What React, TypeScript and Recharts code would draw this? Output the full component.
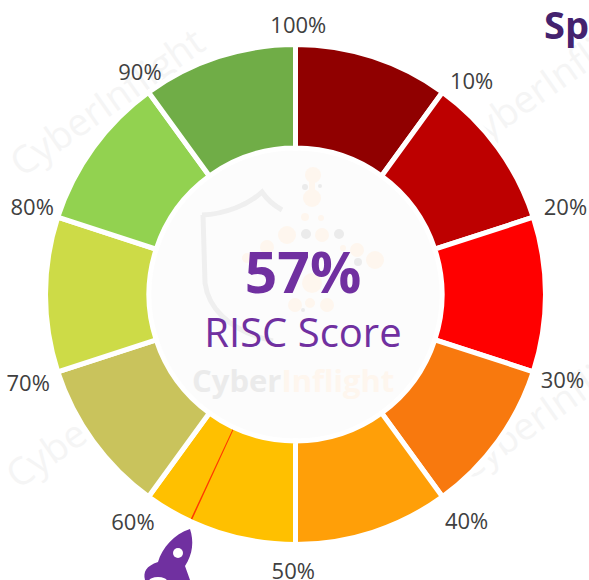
import { Cell, Pie, PieChart } from 'recharts';

const FONT = '"Open Sans", "Noto Sans", sans-serif';

const tickLabels = ['10%', '20%', '30%', '40%', '50%', '60%', '70%', '80%', '90%', '100%'];
const bandValues = [10, 10, 10, 10, 10, 10, 10, 10, 10, 10];
const bandColors = ['#900000', '#BD0000', '#FF0000', '#F8790E', '#FF9F08', '#FFC000', '#C9C35C', '#CDDB47', '#92D250', '#70AD47'];
const scoreLabel = 'RISC Score';
const scoreValue = 57;
// thin sliver that draws the red marker, the gauge reads a hair under the printed score
const markerValues = [56.85, 0.1, 43.05];
const markerSplit = markerValues.map(value => ({ value }));
const bands = bandValues.map((value, i) => ({ name: tickLabels[i], value }));

const CX = 295.5;
const CY = 294.5;
// the original labels do not sit on a clean circle, small nudges per label
const tickNudgeX = [6, -3, -6, 1, -6, 0, -2, 2, 7, -1];
const tickNudgeY = [5, -6, -3, 0, -2, 1, 0, -6, -4, 2];

function renderTick(props: any) {
    const { midAngle, name, index } = props
    // tick sits on the closing edge of each band
    const angle = ((midAngle - 18) * Math.PI) / 180
    const x = CX + 3.8 + 283 * Math.cos(angle) + tickNudgeX[index]
    const y = CY + 2.7 - 275 * Math.sin(angle) + tickNudgeY[index]
    return <text x={x} y={y} textAnchor="middle" dominantBaseline="central" fontSize={22} fill="#404040" fontFamily={FONT}>{name}</text>
}

function Watermark({ x, y, angle = -35 }: { x: number; y: number; angle?: number }) {
    return <text x={x} y={y} transform={`rotate(${angle} ${x} ${y})`} fontSize={38} fill="#F5F5F5" fontFamily={FONT}>CyberInflight</text>
}

export default function App() {
    return <div style={{ position: 'absolute', left: 0, top: 0, width: 589, height: 580, overflow: 'hidden', background: '#fff' }}>
        <svg width={589} height={580} style={{ position: 'absolute', left: 0, top: 0 }}>
            <Watermark x={22} y={178} />
            <Watermark x={468} y={155} />
            <Watermark x={18} y={490} />
            <Watermark x={468} y={482} />
        </svg>
        <div style={{ position: 'absolute', left: 0, top: 0 }}>
            <PieChart width={589} height={580} margin={{ top: 0, right: 0, bottom: 0, left: 0 }}>
                <Pie data={[{ value: 1 }]} dataKey="value" cx={CX} cy={CY} innerRadius={0} outerRadius={147} startAngle={90} endAngle={-270} fill="#FCFCFC" stroke="none" isAnimationActive={false} />
                <Pie data={bands} dataKey="value" nameKey="name" cx={CX} cy={CY} innerRadius={146.5} outerRadius={250} startAngle={90} endAngle={-270} stroke="#fff" strokeWidth={5} label={renderTick} labelLine={false} isAnimationActive={false}>
                    {bands.map((b, i) => <Cell key={b.name} fill={bandColors[i]} />)}
                </Pie>
                <Pie data={markerSplit} dataKey="value" cx={CX} cy={CY} innerRadius={149} outerRadius={247.5} startAngle={90} endAngle={-270} stroke="none" isAnimationActive={false}>
                    {markerSplit.map((_, i) => <Cell key={i} fill={i === 1 ? '#FF3A00' : 'transparent'} />)}
                </Pie>
            </PieChart>
        </div>
        <svg width={589} height={580} style={{ position: 'absolute', left: 0, top: 0 }}>
            {/* faded logo behind the score */}
            <path d="M202 215 C225 214 248 205 262 192 C268 201 275 206 282 210 M203 215 L205 283 C208 305 225 330 273 341" fill="none" stroke="#EFEFEF" strokeWidth={5} />
            <g fill="#FEF6EE">
                <circle cx={313} cy={175} r={8} />
                <circle cx={312} cy={198} r={9} />
                <rect x={309} y={175} width={6} height={24} />
                <circle cx={305} cy={217} r={4} />
                <circle cx={321} cy={218} r={3} />
                <circle cx={287} cy={235} r={9} />
                <circle cx={322} cy={235} r={7} />
                <circle cx={267} cy={247} r={7} />
                <circle cx={247} cy={258} r={5} />
                <circle cx={357} cy={250} r={7} />
                <circle cx={375} cy={260} r={9} />
                <circle cx={343} cy={248} r={3} />
                <circle cx={312} cy={283} r={10} />
                <circle cx={295} cy={305} r={7} />
                <circle cx={310} cy={303} r={5} />
                <circle cx={327} cy={305} r={7} />
            </g>
            <g fill="#EBEBEB">
                <circle cx={305} cy={187} r={3} />
                <circle cx={320} cy={186} r={2} />
                <circle cx={306} cy={234} r={5} />
                <circle cx={339} cy={234} r={5} />
                <circle cx={358} cy={262} r={4} />
                <circle cx={303} cy={310} r={2} />
            </g>
            <text x={192} y={392} fontSize={31} fontWeight={700} fontFamily={FONT} fill="#EBEBEB">Cyber<tspan fill="#FEF6EE">Inflight</tspan></text>
            <text x={303} y={293} textAnchor="middle" fontSize={57} fontWeight={700} fontFamily={FONT} fill="#7030A0">{scoreValue}%</text>
            <text x={303} y={347} textAnchor="middle" fontSize={40} fontFamily={FONT} fill="#7030A0">{scoreLabel}</text>
            <text x={544} y={39} fontSize={38} fontWeight={700} fontFamily={FONT} fill="#44226E">Sp</text>
            {/* rocket under the marker */}
            <path d="M190 529 C194 541 193 554 185 566 L190 580 L145 580 C143 572 146 566 158 562 C162 548 174 534 190 529 Z" fill="#7030A0" />
            <circle cx={178} cy={553} r={5} fill="#fff" />
            <ellipse cx={158} cy={581} rx={9} ry={4} fill="#fff" />
        </svg>
    </div>
}
